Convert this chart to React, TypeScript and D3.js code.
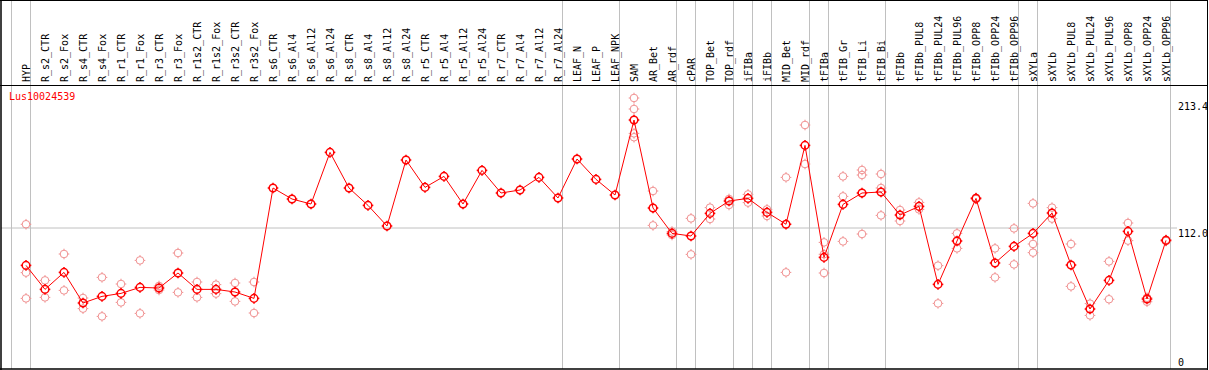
import React from "react";
import * as d3 from "d3";

const width = 1209;
const height = 370;

const samples = [
  "HYP", "R_s2_CTR", "R_s2_Fox", "R_s4_CTR", "R_s4_Fox", "R_r1_CTR", "R_r1_Fox",
  "R_r3_CTR", "R_r3_Fox", "R_r1s2_CTR", "R_r1s2_Fox", "R_r3s2_CTR", "R_r3s2_Fox",
  "R_s6_CTR", "R_s6_Al4", "R_s6_Al12", "R_s6_Al24", "R_s8_CTR", "R_s8_Al4",
  "R_s8_Al12", "R_s8_Al24", "R_r5_CTR", "R_r5_Al4", "R_r5_Al12", "R_r5_Al24",
  "R_r7_CTR", "R_r7_Al4", "R_r7_Al12", "R_r7_Al24", "LEAF_N", "LEAF_P", "LEAF_NPK",
  "SAM", "AR_Bet", "AR_rdf", "cPAR", "TOP_Bet", "TOP_rdf", "iFIBa", "iFIBb",
  "MID_Bet", "MID_rdf", "tFIBa", "tFIB_Gr", "tFIB_Li", "tFIB_Bi", "tFIBb",
  "tFIBb_PUL8", "tFIBb_PUL24", "tFIBb_PUL96", "tFIBb_OPP8", "tFIBb_OPP24",
  "tFIBb_OPP96", "sXYLa", "sXYLb", "sXYLb_PUL8", "sXYLb_PUL24", "sXYLb_PUL96",
  "sXYLb_OPP8", "sXYLb_OPP24", "sXYLb_OPP96",
];

const means = [
  82.1, 62.9, 76.5, 52.0, 57.3, 59.7, 64.5, 64.0, 76.0, 62.9, 62.9, 60.8, 55.7,
  144.0, 135.2, 131.2, 172.5, 144.0, 130.1, 113.6, 166.4, 144.5, 153.3, 131.2, 158.1,
  140.0, 142.4, 152.5, 136.0, 167.2, 150.9, 138.4,
  198.4, 128.0, 107.7, 105.6, 123.7, 133.6, 135.7, 124.5, 115.0, 178.1, 88.5,
  130.9, 140.0, 140.8, 122.4, 129.3, 66.9, 101.6, 135.7, 84.0, 97.3,
  107.7, 124.0, 82.4, 47.2, 70.1, 109.3, 55.2, 102.1,
];

const replicates = [
  [115.0, 76.3, 55.7], [70.1, 56.5], [91.2, 62.1], [56.0, 47.5], [72.5, 41.3],
  [67.2, 52.5], [86.1, 43.7], [65.6, 62.4], [92.0, 60.5], [68.8, 56.5], [66.7, 59.5],
  [68.0, 53.3], [68.8, 44.0],
  [], [], [], [], [], [], [], [], [], [], [], [], [], [], [], [], [], [], [],
  [216.0, 207.2, 187.7, 184.6], [141.6, 114.1], [109.2, 106.4], [119.7, 90.9],
  [128.3, 119.2], [135.2, 130.4], [138.9, 132.3], [126.9, 121.6], [152.5, 76.5],
  [194.4, 163.2], [100.5, 91.0, 76.0], [153.3, 137.3, 101.3], [158.4, 154.4, 107.2],
  [155.2, 144.0, 122.1], [126.4, 117.6], [132.5, 126.9], [81.9, 51.7], [107.7, 95.7],
  [136.2, 135.2], [95.7, 72.5], [111.7, 82.9], [131.7, 99.2, 92.3], [128.3, 119.5],
  [99.2, 65.3], [51.5, 42.1], [85.3, 55.0], [116.0, 101.9], [56.2, 53.0], [102.6, 101.6],
];

// index of the last sample of each group (0 = before the first)
const groupEnds = [0, 1, 29, 32, 35, 36, 38, 39, 40, 42, 43, 46, 53, 54, 61];
const yTicks = [213.4, 112.0, 0];
const geneName = "Lus10024539";

const font = "'DejaVu Sans Mono', monospace";
const red = "#ff0000";
const pink = "#f09090";
const grid = "#c0c0c0";

function Marker({ cx, cy, color, sw }) {
  const r = 3.8;
  return (
    <g stroke={color} strokeWidth={sw} fill="none">
      <circle cx={cx} cy={cy} r={r} />
      <line x1={cx} x2={cx} y1={cy - r - 1.5} y2={cy - r} />
      <line x1={cx} x2={cx} y1={cy + r} y2={cy + r + 1.5} />
      <line x1={cx - r - 1.5} x2={cx - r} y1={cy} y2={cy} />
      <line x1={cx + r} x2={cx + r + 1.5} y1={cy} y2={cy} />
    </g>
  );
}

export default function App() {
  const x = d3.scalePoint().domain(samples).range([26, 1166]);
  const y = d3.scaleLinear().domain([0, 213.4]).range([368, 101.25]);
  const step = x.step();
  const sepX = (i) => (i === 0 ? 26 - step : x(samples[i - 1])) + 4.5;

  const linePath = d3
    .line()
    .x((d, i) => x(samples[i]))
    .y((d) => y(d))(means);

  return (
    <svg
      width={width}
      height={height}
      style={{ position: "absolute", left: 0, top: 0, background: "#fff" }}
    >
      {groupEnds.map((g) => (
        <line key={g} x1={sepX(g)} x2={sepX(g)} y1={0} y2={369} stroke={grid} strokeWidth={1} />
      ))}
      <line x1={1} x2={1177} y1={y(112)} y2={y(112)} stroke={grid} strokeWidth={1} />

      {/* frame */}
      <line x1={0} x2={1208} y1={0.5} y2={0.5} stroke="#000" />
      <line x1={0} x2={1208} y1={85.5} y2={85.5} stroke="#000" />
      <line x1={0} x2={1208} y1={369} y2={369} stroke="#000" strokeWidth={1.5} />
      <line x1={1} x2={1} y1={0} y2={370} stroke="#000" strokeWidth={1.5} />
      <line x1={1207.5} x2={1207.5} y1={0} y2={370} stroke="#000" />

      {samples.map((s) => (
        <text
          key={s}
          transform={`translate(${x(s) + 4},82) rotate(-90)`}
          fontFamily={font}
          fontSize={10}
          fill="#000"
        >
          {s}
        </text>
      ))}

      {yTicks.map((t) => (
        <text
          key={t}
          x={1178}
          y={Math.min(y(t) + 9, 366)}
          fontFamily={font}
          fontSize={10}
          fill="#000"
        >
          {t === 0 ? "0" : t.toFixed(1)}
        </text>
      ))}

      <text x={9} y={100} fontFamily={font} fontSize={10} fill={red}>
        {geneName}
      </text>

      {replicates.map((reps, i) =>
        reps.map((v, j) => (
          <Marker key={`${i}-${j}`} cx={x(samples[i])} cy={y(v)} color={pink} sw={1} />
        ))
      )}

      <path d={linePath} fill="none" stroke={red} strokeWidth={1} />

      {means.map((v, i) => (
        <Marker key={i} cx={x(samples[i])} cy={y(v)} color={red} sw={1.5} />
      ))}
    </svg>
  );
}
